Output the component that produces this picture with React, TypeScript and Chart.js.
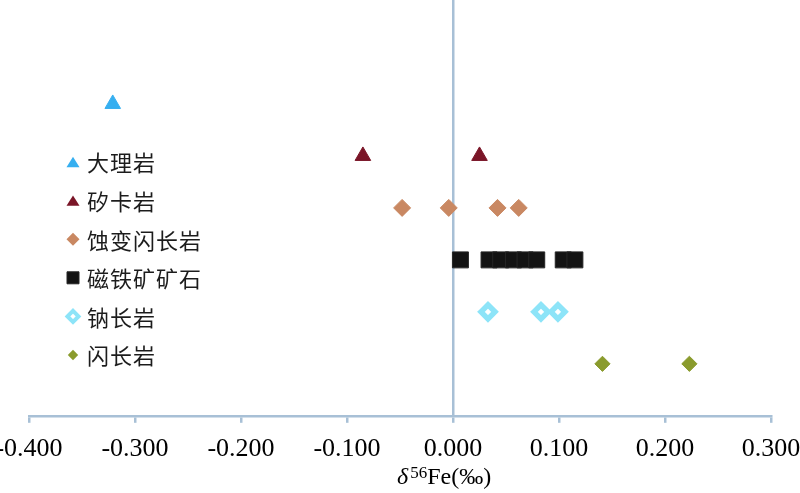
import React, { useEffect, useRef } from 'react';
import { Chart, registerables } from 'chart.js';

Chart.register(...registerables);

// ---- data ----
const rockTypes = ['大理岩', '矽卡岩', '蚀变闪长岩', '磁铁矿矿石', '钠长岩', '闪长岩'];
const rowLevels = [6, 5, 4, 3, 2, 1];
const marbleValues = [-0.321];
const skarnValues = [-0.085, 0.025];
const alteredDioriteValues = [-0.048, -0.004, 0.042, 0.062];
const magnetiteOreValues = [0.007, 0.034, 0.045, 0.057, 0.068, 0.079, 0.104, 0.115];
const albititeValues = [0.033, 0.083, 0.099];
const dioriteValues = [0.141, 0.223];
const xTickValues = [-0.4, -0.3, -0.2, -0.1, 0.0, 0.1, 0.2, 0.3];
const xAxisTitleParts = ['δ', '56', 'Fe(‰)'];

const seriesValues = [
  marbleValues,
  skarnValues,
  alteredDioriteValues,
  magnetiteOreValues,
  albititeValues,
  dioriteValues,
];

// ---- styles ----
const axisColor = '#a8c0d6';
type MarkerStyle = {
  pointStyle: string;
  radius: number;
  bg: string;
  border: string;
  borderWidth: number;
  legendSize: number;
  legendBorder: number;
};
const markerStyles: MarkerStyle[] = [
  { pointStyle: 'triangle', radius: 9, bg: '#36aff0', border: '#36aff0', borderWidth: 1, legendSize: 13, legendBorder: 0 },
  { pointStyle: 'triangle', radius: 9, bg: '#7a1527', border: '#7a1527', borderWidth: 1, legendSize: 13, legendBorder: 0 },
  { pointStyle: 'rectRot', radius: 8.5, bg: '#c98862', border: '#c98862', borderWidth: 1, legendSize: 6.5, legendBorder: 0 },
  { pointStyle: 'rect', radius: 11.3, bg: '#131313', border: '#262626', borderWidth: 1, legendSize: 12, legendBorder: 0 },
  { pointStyle: 'rectRot', radius: 7, bg: '#ffffff', border: '#8de4f8', borderWidth: 5.5, legendSize: 5.5, legendBorder: 4 },
  { pointStyle: 'rectRot', radius: 7.6, bg: '#8a9b2d', border: '#8a9b2d', borderWidth: 1, legendSize: 5.2, legendBorder: 0 },
];

const legendMarkerX = 73;
const legendTextX = 87;
const legendTop = 162;
const legendGap = 38.6;

function drawLegendMarker(ctx: CanvasRenderingContext2D, s: MarkerStyle, x: number, y: number) {
  ctx.save();
  ctx.beginPath();
  if (s.pointStyle === 'triangle') {
    const w = s.legendSize;
    const h = w * 0.8;
    ctx.moveTo(x, y - h / 2);
    ctx.lineTo(x + w / 2, y + h / 2);
    ctx.lineTo(x - w / 2, y + h / 2);
    ctx.closePath();
    ctx.fillStyle = s.bg;
    ctx.fill();
  } else if (s.pointStyle === 'rect') {
    const a = s.legendSize;
    ctx.rect(x - a / 2, y - a / 2, a, a);
    ctx.fillStyle = s.bg;
    ctx.fill();
    ctx.lineWidth = 1;
    ctx.strokeStyle = s.border;
    ctx.stroke();
  } else {
    const r = s.legendSize;
    ctx.moveTo(x - r, y);
    ctx.lineTo(x, y - r);
    ctx.lineTo(x + r, y);
    ctx.lineTo(x, y + r);
    ctx.closePath();
    ctx.fillStyle = s.bg;
    ctx.fill();
    if (s.legendBorder) {
      ctx.lineWidth = s.legendBorder;
      ctx.strokeStyle = s.border;
      ctx.stroke();
    }
  }
  ctx.restore();
}

const overlayPlugin = {
  id: 'overlayLegendTitle',
  afterDraw(chart: any) {
    const ctx: CanvasRenderingContext2D = chart.ctx;
    ctx.save();
    // legend
    rockTypes.forEach((name, i) => {
      const y = legendTop + i * legendGap;
      drawLegendMarker(ctx, markerStyles[i], legendMarkerX, y);
      ctx.font = '22px "Noto Sans CJK SC"';
      (ctx as any).letterSpacing = '1px';
      ctx.fillStyle = '#1c1c1c';
      ctx.textBaseline = 'middle';
      ctx.textAlign = 'left';
      ctx.fillText(name, legendTextX, y + 1);
    });
    (ctx as any).letterSpacing = '0px';
    // x axis title
    const xs = chart.scales.x;
    let x = xs.getPixelForValue(0) - 56;
    const baseline = 484;
    ctx.fillStyle = '#000';
    ctx.textBaseline = 'alphabetic';
    ctx.textAlign = 'left';
    ctx.font = 'italic 24px "Liberation Serif"';
    ctx.fillText(xAxisTitleParts[0], x, baseline);
    x += ctx.measureText(xAxisTitleParts[0]).width + 2;
    ctx.font = '17px "Liberation Serif"';
    ctx.fillText(xAxisTitleParts[1], x, baseline - 6);
    x += ctx.measureText(xAxisTitleParts[1]).width;
    ctx.font = '24px "Liberation Serif"';
    ctx.fillText(xAxisTitleParts[2], x, baseline);
    ctx.restore();
  },
};

export default function App() {
  const canvasRef = useRef<HTMLCanvasElement | null>(null);

  useEffect(() => {
    document.body.style.margin = '0';
    const canvas = canvasRef.current;
    if (!canvas) return;

    const datasets = rockTypes.map((name, i) => {
      const s = markerStyles[i];
      return {
        label: name,
        data: seriesValues[i].map((v) => ({ x: v, y: rowLevels[i] })),
        pointStyle: s.pointStyle,
        pointRadius: s.radius,
        backgroundColor: s.bg,
        borderColor: s.border,
        borderWidth: s.borderWidth,
        showLine: false,
      };
    });

    const zeroPadding = (scale: any) => {
      scale.paddingLeft = 0;
      scale.paddingRight = 0;
      scale.paddingTop = 0;
      scale.paddingBottom = 0;
    };

    const chart = new Chart(canvas, {
      type: 'scatter',
      data: { datasets } as any,
      plugins: [overlayPlugin as any],
      options: {
        animation: false,
        responsive: true,
        maintainAspectRatio: false,
        layout: { autoPadding: false, padding: { left: 29, right: 29, top: 0, bottom: 17 } },
        plugins: {
          legend: { display: false },
          tooltip: { enabled: false },
        },
        scales: {
          x: {
            type: 'linear',
            min: xTickValues[0],
            max: xTickValues[xTickValues.length - 1],
            afterBuildTicks: (scale: any) => {
              scale.ticks = xTickValues.map((v) => ({ value: v }));
            },
            afterFit: zeroPadding,
            grid: {
              display: true,
              drawOnChartArea: false,
              drawTicks: true,
              tickLength: 7,
              color: axisColor,
              lineWidth: 2.5,
            },
            border: { display: true, color: axisColor, width: 2.5 },
            ticks: {
              autoSkip: false,
              maxRotation: 0,
              padding: 11,
              color: '#000',
              font: { family: '"Liberation Serif"', size: 26 },
              callback: (v: any) => {
                const n = Number(v);
                return (Math.abs(n) < 1e-9 ? 0 : n).toFixed(3);
              },
            },
          },
          y: {
            type: 'linear',
            min: 0,
            max: 8,
            position: { x: 0 } as any,
            afterFit: zeroPadding,
            ticks: { display: false },
            grid: { display: false, drawTicks: false },
            border: { display: true, color: axisColor, width: 2.5 },
          },
        },
      } as any,
    });

    return () => chart.destroy();
  }, []);

  return (
    <div style={{ width: 800, height: 493, position: 'relative', background: '#fff' }}>
      <canvas ref={canvasRef} />
    </div>
  );
}
